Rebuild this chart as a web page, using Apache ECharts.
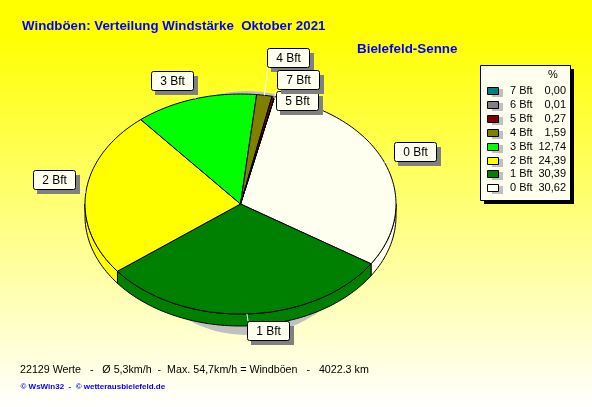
<!DOCTYPE html>
<html><head><meta charset="utf-8">
<style>html,body{margin:0;padding:0;background:#fff}#c{width:592px;height:407px}</style>
<script src="https://cdn.jsdelivr.net/npm/echarts@6/dist/echarts.min.js"></script>
</head><body><div id="c"></div>
<script>
// ---- data ----
const categories = ['0 Bft','1 Bft','2 Bft','3 Bft','4 Bft','5 Bft','6 Bft','7 Bft'];
const percents   = [30.62, 30.39, 24.39, 12.74, 1.59, 0.27, 0.01, 0.00];
const legendOrder = ['7 Bft','6 Bft','5 Bft','4 Bft','3 Bft','2 Bft','1 Bft','0 Bft'];
const titleText = 'Windböen: Verteilung Windstärke  Oktober 2021';
const stationText = 'Bielefeld-Senne';
const footerText = '22129 Werte   -   Ø 5,3km/h  -  Max. 54,7km/h = Windböen   -   4022.3 km';
const creditText = '© WsWin32  -  © wetterausbielefeld.de';

// ---- styles and layout ----
const colors = {'0 Bft':'#fffff0','1 Bft':'#008000','2 Bft':'#ffff00','3 Bft':'#00ff00',
                '4 Bft':'#808000','5 Bft':'#800000','6 Bft':'#808080','7 Bft':'#008080'};
const CX=240.5, CY=204, RX=155.5, RY=110, DEPTH=12, START=12.7;
// box top-left and leader end for each labelled slice
const labelBoxes = {
  '0 Bft':{x:394,y:142,ex:394,ey:162}, '1 Bft':{x:247,y:321,ex:248,ey:321},
  '2 Bft':{x:33,y:170,ex:76,ey:191},   '3 Bft':{x:151,y:71,ex:192,ey:90},
  '4 Bft':{x:267,y:48,ex:268,ey:67},   '7 Bft':{x:277,y:70,ex:277,ey:89},
  '5 Bft':{x:276,y:91,ex:276,ey:100}
};
const FONT='"Liberation Sans", Arial, sans-serif';

const total = percents.reduce((a,b)=>a+b,0);
const spans = []; let acc = START;
percents.forEach(v=>{const s=v/total*360; spans.push([acc,acc+s]); acc+=s;});
const pt = (deg,dy=0)=>{const r=deg*Math.PI/180; return [CX+RX*Math.sin(r), CY-RY*Math.cos(r)+dy];};
const arc = (a,b,dy=0)=>{const out=[]; const n=Math.max(1,Math.ceil((b-a)/1.5));
  for(let i=0;i<=n;i++) out.push(pt(a+(b-a)*i/n,dy)); return out;};

const indices = categories.map((c,i)=>[i]);

function renderShadow(params){
  if(params.dataIndex!==0) return;
  return {type:'ellipse',shape:{cx:247,cy:213,rx:122,ry:122},style:{fill:'#c0c0c0'},silent:true};
}
function renderSide(params,api){
  const i=api.value(0), [a,b]=spans[i]; const kids=[];
  [[a,b],[a+360,b+360],[a-360,b-360]].forEach(([p,q])=>{
    const s=Math.max(p,90), e=Math.min(q,270);
    if(e<=s) return;
    const pts=arc(s,e,0).concat(arc(s,e,DEPTH).reverse());
    kids.push({type:'polygon',shape:{points:pts},style:{fill:colors[categories[i]],stroke:'#000',lineWidth:1}});
  });
  return {type:'group',children:kids};
}
function renderTop(params,api){
  const i=api.value(0), [a,b]=spans[i];
  if(b-a<0.01) return;
  const pts=[[CX,CY]].concat(arc(a,b));
  return {type:'polygon',shape:{points:pts},style:{fill:colors[categories[i]],stroke:'#000',lineWidth:1}};
}
function renderLabel(params,api){
  const i=api.value(0), name=categories[i], box=labelBoxes[name];
  if(!box) return;
  const [a,b]=spans[i], p=pt((a+b)/2), W=43, H=19;
  return {type:'group',children:[
    {type:'line',shape:{x1:p[0],y1:p[1],x2:box.ex,y2:box.ey},style:{stroke:'#fff',lineWidth:1}},
    {type:'rect',shape:{x:box.x+4,y:box.y+5,width:W,height:H},style:{fill:'#808080'}},
    {type:'rect',shape:{x:box.x+.5,y:box.y+.5,width:W-1,height:H,r:2},style:{fill:'#fffff0',stroke:'#000',lineWidth:1}},
    {type:'text',style:{x:box.x+W/2,y:box.y+10.5,text:name,fill:'#000',font:'12px '+FONT,align:'center',verticalAlign:'middle'}}
  ]};
}
function renderLegendBox(params){
  if(params.dataIndex!==0) return;
  return {type:'group',children:[
    {type:'rect',shape:{x:484,y:69,width:90,height:135},style:{fill:'#000'}},
    {type:'rect',shape:{x:480.5,y:65.5,width:90,height:135},style:{fill:'#fffff0',stroke:'#000',lineWidth:1}},
    {type:'text',style:{x:553,y:75,text:'%',fill:'#000',font:'11px '+FONT,align:'center',verticalAlign:'middle'}}
  ]};
}
function renderLegendRow(params,api){
  const row=params.dataIndex, name=legendOrder[row];
  const v=percents[categories.indexOf(name)];
  const y=91+row*13.9;
  return {type:'group',children:[
    {type:'rect',shape:{x:492,y:Math.round(y)-2,width:11,height:8},style:{fill:'#c0c0c0'}},
    {type:'rect',shape:{x:487.5,y:Math.round(y)-3.5,width:11,height:7},style:{fill:colors[name],stroke:'#000',lineWidth:1}},
    {type:'text',style:{x:510,y:y,text:name,fill:'#000',font:'11px '+FONT,align:'left',verticalAlign:'middle'}},
    {type:'text',style:{x:566,y:y,text:v.toFixed(2).replace('.',','),fill:'#000',font:'11px '+FONT,align:'right',verticalAlign:'middle'}}
  ]};
}
const custom=(renderItem,data,z)=>({type:'custom',coordinateSystem:'none',renderItem,data,z,silent:true,animation:false,clip:false});

const chart=echarts.init(document.getElementById('c'),null,{renderer:'canvas',width:592,height:407});
chart.setOption({
  animation:false,
  backgroundColor:new echarts.graphic.LinearGradient(0,0,0,1,[
    {offset:0,color:'#ffff00'},{offset:0.08,color:'#ffff00'},{offset:1,color:'#ffffff'}]),
  title:[
    {text:titleText,left:17,top:15,textStyle:{color:'#0000ff',fontFamily:FONT,fontWeight:'bold',fontSize:13.3}},
    {text:stationText,left:352,top:38,textStyle:{color:'#0000ff',fontFamily:FONT,fontWeight:'bold',fontSize:13.4}},
    {text:footerText,left:15,top:360,textStyle:{color:'#000',fontFamily:FONT,fontWeight:'normal',fontSize:10.7}},
    {text:creditText,left:15.5,top:378,textStyle:{color:'#0000ff',fontFamily:FONT,fontWeight:'bold',fontSize:8}}
  ],
  series:[
    custom(renderShadow,indices,1),
    custom(renderSide,indices,2),
    custom(renderTop,indices,3),
    custom(renderLabel,indices,4),
    custom(renderLegendBox,indices,5),
    custom(renderLegendRow,indices,6)
  ]
});
</script></body></html>
